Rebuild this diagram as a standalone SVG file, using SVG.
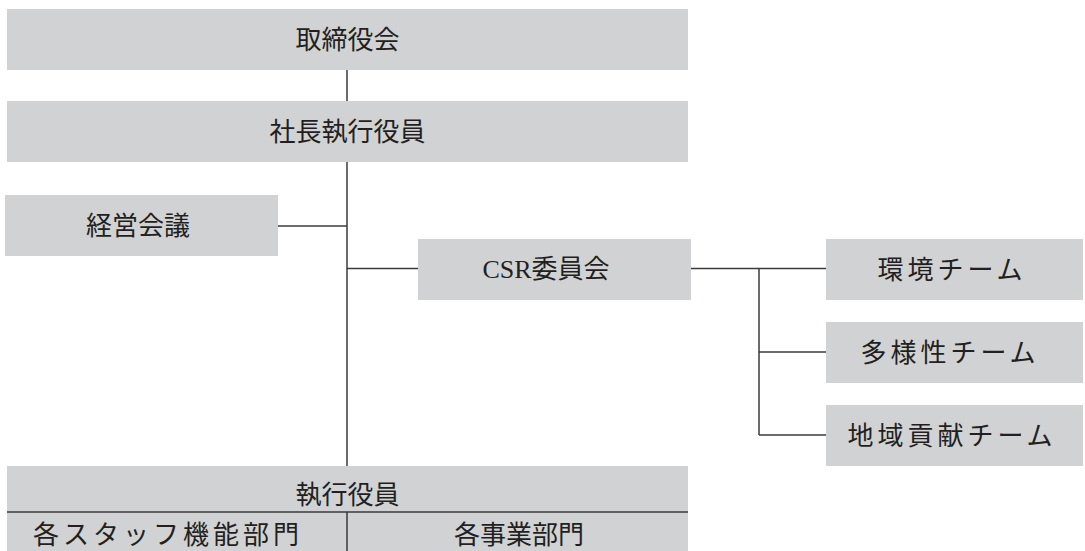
<svg xmlns="http://www.w3.org/2000/svg" width="1085" height="551" viewBox="0 0 1085 551">
<style>
.box{fill:#d1d2d4;}
.t{font-family:"Liberation Serif","Noto Sans CJK JP",serif;font-size:26px;fill:#231f20;text-anchor:middle;dominant-baseline:central;}
.k{letter-spacing:4px;}
.ln{stroke:#3a3a3a;stroke-width:1.5;fill:none;}
</style>
<rect width="1085" height="551" fill="#ffffff"/>
<g id="connectors">
<line class="ln" x1="347" y1="70" x2="347" y2="101"/>
<line class="ln" x1="347" y1="162" x2="347" y2="466"/>
<line class="ln" x1="278" y1="226" x2="347" y2="226"/>
<line class="ln" x1="347" y1="268.5" x2="418" y2="268.5"/>
<line class="ln" x1="691" y1="268.5" x2="826" y2="268.5"/>
<line class="ln" x1="759" y1="268.5" x2="759" y2="435"/>
<line class="ln" x1="759" y1="352" x2="826" y2="352"/>
<line class="ln" x1="759" y1="435" x2="826" y2="435"/>
</g>
<g id="n-board"><rect class="box" x="7" y="9" width="681" height="61"/><text class="t" x="347.5" y="40">取締役会</text></g>
<g id="n-president"><rect class="box" x="7" y="101" width="681" height="61"/><text class="t" x="347.5" y="132">社長執行役員</text></g>
<g id="n-mgmt"><rect class="box" x="5" y="195" width="273" height="61"/><text class="t" x="138" y="226">経営会議</text></g>
<g id="n-csr"><rect class="box" x="418" y="239" width="273" height="61"/><text class="t" x="546" y="269" font-size="27">CSR委員会</text></g>
<g id="n-env"><rect class="box" x="826" y="239" width="257" height="61"/><text class="t k" x="952" y="270">環境チーム</text></g>
<g id="n-div"><rect class="box" x="826" y="322" width="257" height="61"/><text class="t k" x="950" y="353">多様性チーム</text></g>
<g id="n-comm"><rect class="box" x="826" y="405" width="257" height="61"/><text class="t k" x="952" y="436">地域貢献チーム</text></g>
<g id="n-exec">
<rect class="box" x="7" y="466" width="681" height="85"/>
<text class="t" x="347.5" y="495">執行役員</text>
<line class="ln" x1="7" y1="512" x2="688" y2="512"/>
<line class="ln" x1="347" y1="512" x2="347" y2="551"/>
</g>
<g id="n-staff"><text class="t k" x="168" y="535">各スタッフ機能部門</text></g>
<g id="n-biz"><text class="t" x="519" y="535">各事業部門</text></g>
</svg>
